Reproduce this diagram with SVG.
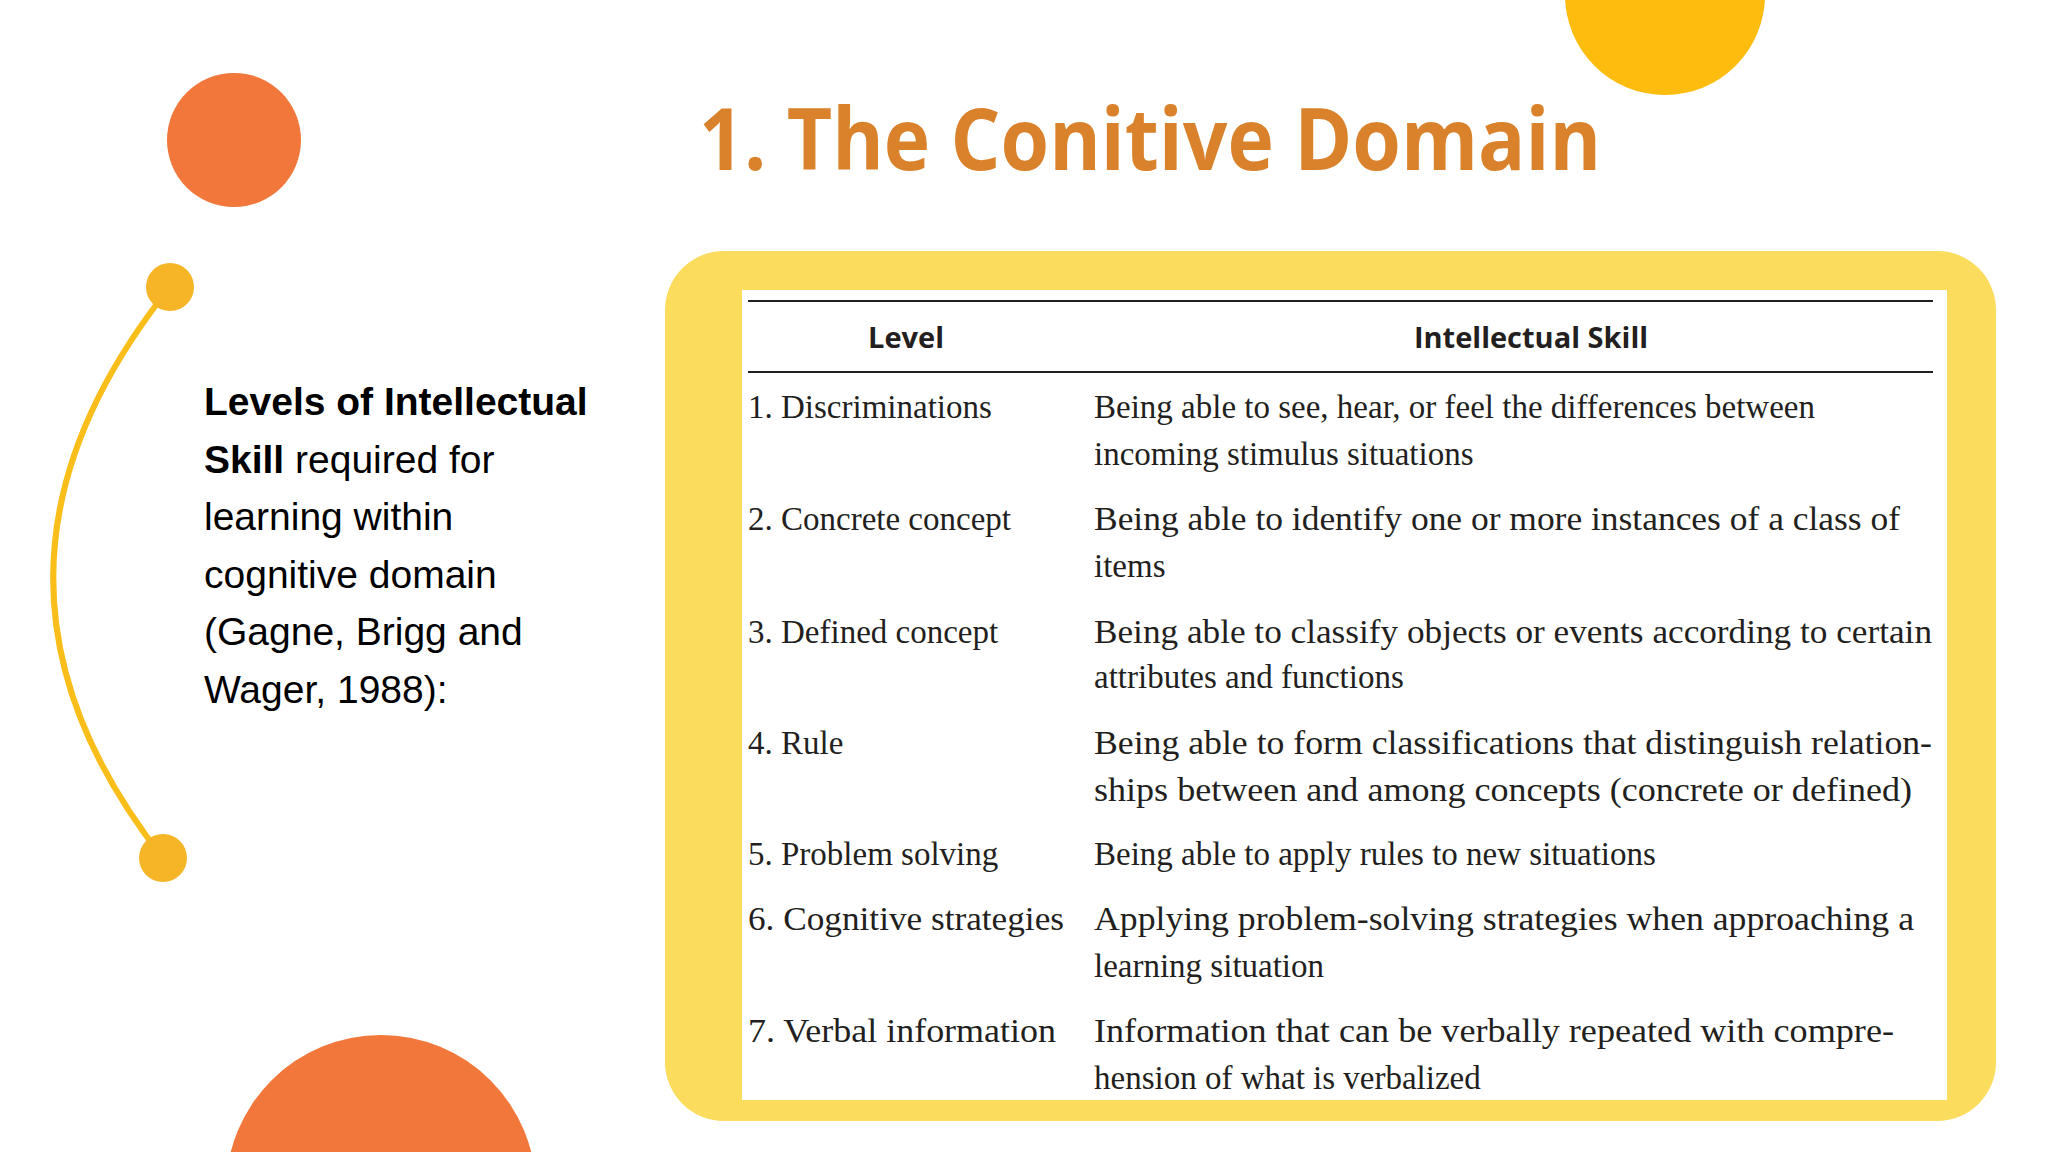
<svg xmlns="http://www.w3.org/2000/svg" width="2048" height="1152" viewBox="0 0 2048 1152">
<style>
.t{font-family:"Liberation Serif",serif;font-size:33px;fill:#231f20}
.h{font-family:"Open Sans","Liberation Sans",sans-serif;font-size:29px;font-weight:bold;fill:#231f20}
.l{font-family:"Liberation Sans",Arial,sans-serif;font-size:39px;fill:#000}
</style>
<rect width="2048" height="1152" fill="#fff"/>
<g id="deco">
<circle cx="234" cy="140" r="67" fill="#F1773A"/>
<circle cx="1665" cy="-5" r="100" fill="#FDBC0E"/>
<circle cx="381" cy="1190" r="155" fill="#F1773A"/>
<path d="M170 287 Q-60 575 163 858" fill="none" stroke="#F9BE1A" stroke-width="6"/>
<circle cx="170" cy="287" r="24" fill="#F5B526"/>
<circle cx="163" cy="858" r="24" fill="#F5B526"/>
</g>
<g id="title"><text x="699" y="170" font-family="'Open Sans','Liberation Sans',sans-serif" font-weight="bold" font-size="86" fill="#D9822B" textLength="902" lengthAdjust="spacingAndGlyphs">1. The Conitive Domain</text></g>
<g id="intro" class="l">
<text x="204" y="415"><tspan font-weight="bold">Levels of Intellectual</tspan></text>
<text x="204" y="473"><tspan font-weight="bold">Skill</tspan> required for</text>
<text x="204" y="530">learning within</text>
<text x="204" y="588">cognitive domain</text>
<text x="204" y="645">(Gagne, Brigg and</text>
<text x="204" y="703">Wager, 1988):</text>
</g>
<g id="table">
<rect x="665" y="251" width="1331" height="870" rx="59" fill="#FCDC5C"/>
<rect x="742" y="290" width="1205" height="810" fill="#fff"/>
<line x1="748" y1="301" x2="1933" y2="301" stroke="#231f20" stroke-width="2"/>
<line x1="748" y1="372" x2="1933" y2="372" stroke="#231f20" stroke-width="2"/>
<text class="h" x="906" y="348" text-anchor="middle">Level</text>
<text class="h" x="1531" y="348" text-anchor="middle">Intellectual Skill</text>
<g class="t">
<text x="748" y="418">1. Discriminations</text>
<text x="1094" y="418">Being able to see, hear, or feel the differences between</text>
<text x="1094" y="465">incoming stimulus situations</text>
<text x="748" y="530">2. Concrete concept</text>
<text x="1094" y="530" textLength="806" lengthAdjust="spacingAndGlyphs">Being able to identify one or more instances of a class of</text>
<text x="1094" y="577">items</text>
<text x="748" y="643">3. Defined concept</text>
<text x="1094" y="643" textLength="838" lengthAdjust="spacingAndGlyphs">Being able to classify objects or events according to certain</text>
<text x="1094" y="688">attributes and functions</text>
<text x="748" y="754">4. Rule</text>
<text x="1094" y="754" textLength="838" lengthAdjust="spacingAndGlyphs">Being able to form classifications that distinguish relation-</text>
<text x="1094" y="801" textLength="818" lengthAdjust="spacingAndGlyphs">ships between and among concepts (concrete or defined)</text>
<text x="748" y="865">5. Problem solving</text>
<text x="1094" y="865">Being able to apply rules to new situations</text>
<text x="748" y="930" textLength="316" lengthAdjust="spacingAndGlyphs">6. Cognitive strategies</text>
<text x="1094" y="930" textLength="820" lengthAdjust="spacingAndGlyphs">Applying problem-solving strategies when approaching a</text>
<text x="1094" y="977">learning situation</text>
<text x="748" y="1042" textLength="308" lengthAdjust="spacingAndGlyphs">7. Verbal information</text>
<text x="1094" y="1042" textLength="800" lengthAdjust="spacingAndGlyphs">Information that can be verbally repeated with compre-</text>
<text x="1094" y="1089">hension of what is verbalized</text>
</g>
</g>
</svg>
